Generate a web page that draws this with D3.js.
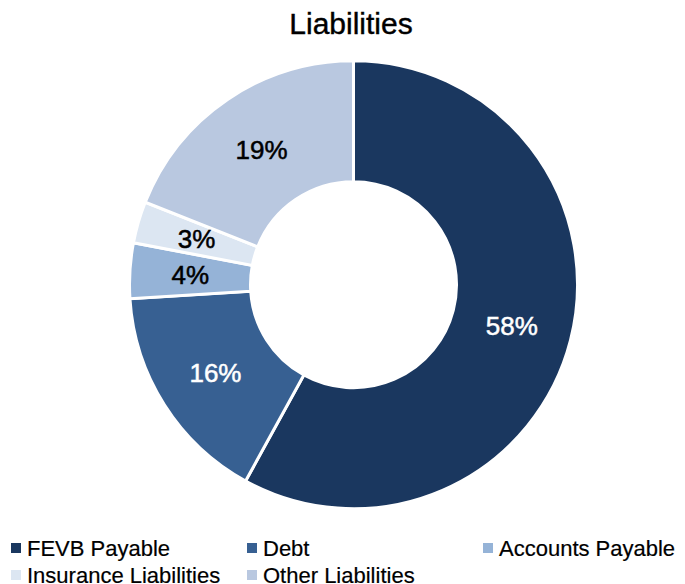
<!DOCTYPE html>
<html>
<head>
<meta charset="utf-8">
<script src="https://cdn.jsdelivr.net/npm/d3@7"></script>
<style>
  html, body { margin: 0; padding: 0; background: #fff; }
  svg { display: block; }
  text { font-family: "Liberation Sans", Arial, sans-serif; }
</style>
</head>
<body>
<svg id="chart" width="685" height="584"></svg>
<script>
// Liability breakdown (percent of total)
const categories = ["FEVB Payable", "Debt", "Accounts Payable", "Insurance Liabilities", "Other Liabilities"];
const shares = [58, 16, 4, 3, 19];
const sliceColors = ["#1a375f", "#376092", "#95b3d7", "#dce6f2", "#b9c8e0"];
const labelColors = ["#ffffff", "#ffffff", "#000000", "#000000", "#000000"];

const svg = d3.select("#chart");
const cx = 353.5, cy = 284.7;
const outerR = 224, innerR = 103;

svg.append("text")
  .attr("x", 351).attr("y", 34)
  .attr("text-anchor", "middle")
  .attr("font-size", 30)
  .attr("fill", "#000")
  .attr("stroke", "#000")
  .attr("stroke-width", 0.4)
  .text("Liabilities");

const color = d3.scaleOrdinal().domain(categories).range(sliceColors);

const pie = d3.pie().sort(null).value(d => d.value);
const data = categories.map((c, i) => ({ name: c, value: shares[i], label: labelColors[i] }));
const arcs = pie(data);

const arc = d3.arc().innerRadius(innerR).outerRadius(outerR);

const g = svg.append("g").attr("transform", `translate(${cx},${cy})`);

g.selectAll("path.slice")
  .data(arcs)
  .join("path")
  .attr("class", "slice")
  .attr("d", arc)
  .attr("fill", d => color(d.data.name))
  .attr("stroke", "#fff")
  .attr("stroke-width", 3)
  .attr("stroke-linejoin", "miter");

g.selectAll("text.pct")
  .data(arcs)
  .join("text")
  .attr("class", "pct")
  .attr("transform", d => `translate(${arc.centroid(d)})`)
  .attr("text-anchor", "middle")
  .attr("dy", "0.36em")
  .attr("font-size", 26)
  .attr("fill", d => d.data.label)
  .attr("stroke", d => d.data.label)
  .attr("stroke-width", 0.5)
  .text(d => d.data.value + "%");

// Legend: three columns, wrapping to a second row
const colX = [11, 247, 483];
const rowY = [548, 575];
const legend = svg.append("g");
const items = legend.selectAll("g.item")
  .data(categories)
  .join("g")
  .attr("class", "item")
  .attr("transform", (d, i) => `translate(${colX[i % 3]},${rowY[Math.floor(i / 3)]})`);

items.append("rect")
  .attr("x", 0).attr("y", -5)
  .attr("width", 10).attr("height", 10)
  .attr("fill", d => color(d));

items.append("text")
  .attr("x", 16)
  .attr("dy", "0.36em")
  .attr("font-size", 22)
  .attr("fill", "#000")
  .attr("stroke", "#000")
  .attr("stroke-width", 0.2)
  .text(d => d);
</script>
</body>
</html>
